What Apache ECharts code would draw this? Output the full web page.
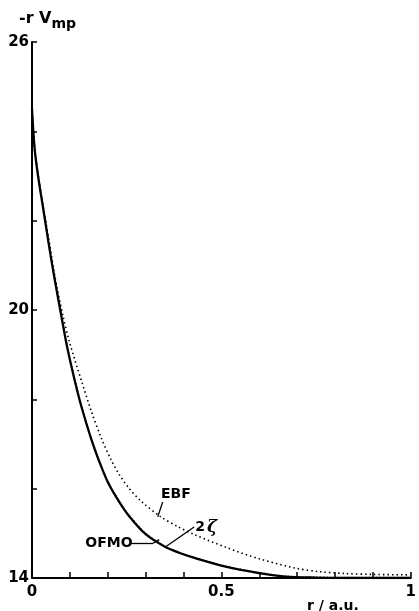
<!DOCTYPE html>
<html>
<head>
<meta charset="utf-8">
<script src="https://cdn.jsdelivr.net/npm/echarts@6/dist/echarts.min.js"></script>
<style>
html,body{margin:0;padding:0;background:#fff;}
#chart{width:419px;height:611px;}
</style>
</head>
<body>
<div id="chart"></div>
<script>
// ---- data ----
var ofmoR = [0, 0.007, 0.016, 0.029, 0.047, 0.060, 0.081, 0.094, 0.112, 0.130, 0.156, 0.177, 0.200, 0.229, 0.255, 0.300, 0.351, 0.390, 0.429, 0.514, 0.600, 0.670, 0.750, 0.850, 1.000];
var ofmoV = [24.5, 23.6, 23.0, 22.3, 21.33, 20.68, 19.7, 19.12, 18.45, 17.85, 17.12, 16.62, 16.15, 15.72, 15.4, 14.98, 14.7, 14.56, 14.45, 14.25, 14.11, 14.03, 14.01, 14.0, 14.0];
var zetaR = [0, 0.007, 0.016, 0.029, 0.047, 0.060, 0.081, 0.094, 0.112, 0.130, 0.156, 0.177, 0.200, 0.229, 0.255, 0.300, 0.351, 0.390, 0.429, 0.514, 0.600, 0.670, 0.750, 0.850, 1.000];
var zetaV = [24.46, 23.63, 23.03, 22.33, 21.37, 20.72, 19.74, 19.16, 18.48, 17.88, 17.14, 16.64, 16.17, 15.74, 15.42, 15.0, 14.71, 14.57, 14.46, 14.26, 14.12, 14.04, 14.02, 14.01, 14.01];
var ebfR = [0, 0.007, 0.016, 0.029, 0.047, 0.060, 0.081, 0.099, 0.130, 0.156, 0.182, 0.208, 0.230, 0.255, 0.288, 0.340, 0.385, 0.429, 0.514, 0.600, 0.696, 0.760, 0.826, 0.900, 1.000];
var ebfV = [24.5, 23.62, 23.03, 22.35, 21.45, 20.77, 19.9, 19.28, 18.43, 17.75, 17.15, 16.66, 16.32, 16.02, 15.72, 15.37, 15.15, 14.97, 14.68, 14.43, 14.22, 14.14, 14.1, 14.08, 14.07];

var xTickValues = [0, 0.5, 1];
var xTickLabels = ['0', '0.5', '1'];
var yTickValues = [14, 20, 26];
var yTickLabels = ['14', '20', '26'];

// annotation labels (data coordinates)
var annoNames = ['EBF', 'OFMO', 'zeta'];
var annoR = [0.380, 0.203, 0.460];
var annoV = [15.88, 14.78, 15.14];
// pointer segments [r1, V1, r2, V2]
var pointerSegs = [
  [0.345, 15.70, 0.332, 15.37],
  [0.262, 14.78, 0.320, 14.78],
  [0.320, 14.78, 0.336, 14.86],
  [0.428, 15.14, 0.351, 14.69]
];

function pairs(xs, ys) { return xs.map(function (x, i) { return [x, ys[i]]; }); }
function lookup(vals, labels, v) {
  for (var i = 0; i < vals.length; i++) if (Math.abs(vals[i] - v) < 1e-6) return labels[i];
  return '';
}

var FONT = 'DejaVu Sans';
var chart = echarts.init(document.getElementById('chart'));

var annoData = annoNames.map(function (n, i) {
  return {
    coord: [annoR[i], annoV[i]],
    label: {
      formatter: n === 'zeta' ? '{a|2}{b|\u03B6}' : n
    }
  };
});

var pointerData = pointerSegs.map(function (s) {
  return [{ coord: [s[0], s[1]] }, { coord: [s[2], s[3]] }];
});

var option = {
  animation: false,
  backgroundColor: '#fff',
  grid: { left: 32, right: 2, top: 42, bottom: 33, containLabel: false },
  xAxis: {
    type: 'value', min: 0, max: 1, interval: 0.1,
    axisLine: { show: true, onZero: false, lineStyle: { color: '#000', width: 2 } },
    axisTick: { show: true, inside: true, length: 6, lineStyle: { color: '#000', width: 1.5 } },
    splitLine: { show: false },
    axisLabel: {
      show: true, margin: 7, color: '#000', fontFamily: FONT, fontWeight: 'bold', fontSize: 15,
      showMaxLabel: true, showMinLabel: true,
      formatter: function (v) { return lookup(xTickValues, xTickLabels, v); }
    }
  },
  yAxis: {
    type: 'value', min: 14, max: 26, interval: 2,
    axisLine: { show: true, onZero: false, lineStyle: { color: '#000', width: 2 } },
    axisTick: { show: true, inside: true, length: 5, lineStyle: { color: '#000', width: 1.5 } },
    splitLine: { show: false },
    axisLabel: {
      show: true, margin: 3, color: '#000', fontFamily: FONT, fontWeight: 'bold', fontSize: 15,
      formatter: function (v) { return lookup(yTickValues, yTickLabels, v); }
    }
  },
  series: [
    {
      name: 'EBF', type: 'line', data: pairs(ebfR, ebfV), smooth: 0.3, showSymbol: false,
      lineStyle: { color: '#000', width: 1.6, type: [1.5, 3] }, z: 2,
      markLine: {
        silent: true, symbol: ['none', 'none'], label: { show: false },
        lineStyle: { color: '#000', width: 1.3, type: 'solid' },
        data: pointerData
      },
      markPoint: {
        silent: true, symbol: 'rect', symbolSize: 1,
        itemStyle: { color: 'rgba(0,0,0,0)' },
        label: {
          show: true, position: 'inside', color: '#000', fontFamily: FONT, fontWeight: 'bold', fontSize: 14,
          rich: {
            a: { color: '#000', fontFamily: FONT, fontWeight: 'bold', fontSize: 14 },
            b: { color: '#000', fontFamily: 'DejaVu Serif', fontStyle: 'italic', fontSize: 17, padding: [0, 0, 0, 2] }
          }
        },
        data: annoData
      }
    },
    {
      name: 'OFMO', type: 'line', data: pairs(ofmoR, ofmoV), smooth: 0.3, showSymbol: false,
      lineStyle: { color: '#000', width: 2.3 }, z: 3
    },
    {
      name: '2zeta', type: 'line', data: pairs(zetaR, zetaV), smooth: 0.3, showSymbol: false,
      lineStyle: { color: '#000', width: 1.4, type: [1, 2.5] }, z: 4
    }
  ],
  graphic: [
    {
      type: 'text', left: 19, top: 11,
      style: {
        text: '{a|-r V}{b|mp}',
        rich: {
          a: { fill: '#000', font: 'bold 16px "DejaVu Sans"' },
          b: { fill: '#000', font: 'bold 14px "DejaVu Sans"', padding: [10, 0, 0, 0] }
        }
      }
    },
    {
      type: 'text', left: 307, top: 599,
      style: { text: 'r / a.u.', fill: '#000', font: 'bold 14px "DejaVu Sans"' }
    }
  ]
};
chart.setOption(option);
</script>
</body>
</html>
